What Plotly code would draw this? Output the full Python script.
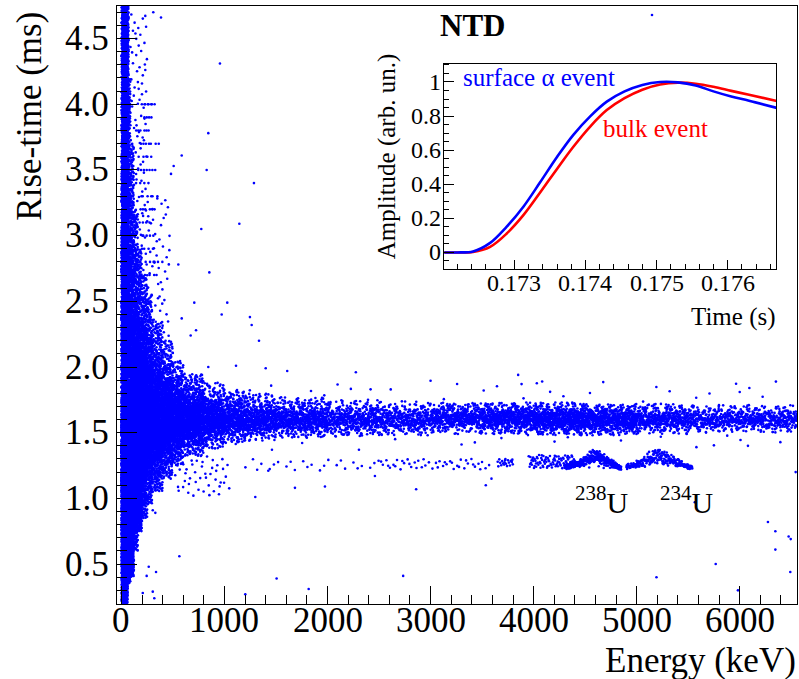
import numpy as np
import plotly.graph_objects as go

# ---------------- data ----------------
# Dense event population, described per energy bin:
# energy range (keV), lower / centre / upper rise-time (ms), number of events, flat fraction
band_E_lo = [0, 30, 60, 90, 120, 160, 200, 250, 300, 400, 500, 600, 800, 1000, 1250, 1500, 2000, 2500, 3000, 3500, 4000, 4500, 5000, 5500, 6000]
band_E_hi = [30, 60, 90, 120, 160, 200, 250, 300, 400, 500, 600, 800, 1000, 1250, 1500, 2000, 2500, 3000, 3500, 4000, 4500, 5000, 5500, 6000, 6560]
band_rt_lo = [0.20, 0.25, 0.35, 0.45, 0.60, 0.75, 0.85, 0.95, 1.05, 1.15, 1.25, 1.32, 1.38, 1.42, 1.44, 1.46, 1.47, 1.48, 1.49, 1.49, 1.48, 1.48, 1.49, 1.50, 1.50]
band_rt_c = [1.60, 1.60, 1.60, 1.60, 1.60, 1.60, 1.60, 1.60, 1.60, 1.60, 1.60, 1.60, 1.60, 1.60, 1.60, 1.60, 1.60, 1.60, 1.61, 1.61, 1.60, 1.60, 1.60, 1.60, 1.60]
band_rt_hi = [4.75, 4.60, 4.20, 3.70, 3.20, 2.90, 2.70, 2.55, 2.35, 2.20, 2.05, 1.95, 1.88, 1.83, 1.80, 1.77, 1.75, 1.74, 1.73, 1.73, 1.73, 1.72, 1.72, 1.71, 1.71]
band_n = [2200, 2200, 1800, 1500, 1600, 1300, 1300, 1100, 1400, 1000, 750, 1000, 650, 560, 450, 650, 450, 400, 480, 600, 720, 650, 450, 330, 360]
band_flat = [0.45, 0.40, 0.30, 0.28, 0.25, 0.25, 0.25, 0.25, 0.25, 0.25, 0.25, 0.25, 0.25, 0.25, 0.25, 0.28, 0.30, 0.30, 0.30, 0.30, 0.30, 0.30, 0.30, 0.30, 0.30]

# Extra sparse regions (uniformly filled boxes): E range, rise-time range, count
box_E_lo = [5, 5, 60, 120, 80, 250, 520, 1000, 1200, 2500, 3650, 3950]
box_E_hi = [70, 60, 120, 200, 250, 470, 1050, 6500, 2500, 3600, 3800, 4400]
box_rt_lo = [2.20, 0.20, 0.40, 0.75, 2.20, 2.20, 1.02, 1.40, 1.21, 1.22, 1.24, 1.23]
box_rt_hi = [4.75, 1.20, 1.20, 1.30, 4.70, 3.30, 1.32, 1.90, 1.30, 1.30, 1.30, 1.33]
box_n = [1400, 600, 400, 250, 120, 50, 45, 90, 25, 45, 20, 90]

# Quantised rise-time rows seen at low energy
quant_rt = [4.0, 3.9, 3.8, 3.7, 3.6, 3.5, 3.4, 3.3, 3.2, 3.1, 3.0, 2.9, 2.8, 2.7]
quant_E_lo = [195, 210, 130, 180, 150, 110, 140, 180, 150, 170, 190, 160, 230, 200]
quant_E_hi = [325, 300, 290, 370, 300, 330, 300, 370, 330, 300, 320, 330, 400, 380]
quant_n = [8, 4, 6, 7, 4, 7, 4, 6, 6, 4, 5, 4, 6, 4]

# Surface alpha clusters (238U, 234U): start, peak, end energy; peak / base rise-time; count
u_E_start = [4300, 4900]
u_E_peak = [4600, 5200]
u_E_end = [4850, 5540]
u_rt_peak = [1.39, 1.40]
u_rt_base = [1.23, 1.23]
u_n = [330, 240]
u_labels = ["<sup>238</sup>U", "<sup>234</sup>U"]

# Isolated events (energy keV, rise-time ms)
out_E = [956, 843, 585, 507, 481, 827, 1286, 1144, 775, 552, 853, 707, 1027, 973, 1247, 1264, 585, 724, 672,
         309, 384, 5149, 1335, 1112, 1400, 1609, 2275, 2418, 843, 562, 1506, 1817, 1202, 207, 304, 319, 245,
         336, 265, 329, 304, 1299, 1684, 1975, 2460, 2305, 1461, 1425, 3850, 3883, 4083, 6000, 6080, 6543,
         2860, 3536, 2734, 5192, 5767, 5983, 6274, 6346, 6346, 6475, 6495, 6491, 5564, 5580, 3591, 6540]
out_rt = [4.31, 3.78, 3.61, 3.53, 3.47, 3.50, 3.40, 3.09, 3.05, 2.78, 2.72, 2.49, 2.49, 2.40, 2.38, 2.32, 2.37, 2.28, 2.24,
          4.70, 4.66, 4.68, 2.20, 2.01, 1.99, 1.97, 1.96, 1.83, 2.00, 0.56, 0.39, 0.31, 0.27, 0.28, 0.29, 0.24, 0.41,
          0.44, 0.48, 0.89, 0.91, 1.01, 1.08, 1.09, 1.17, 1.37, 1.37, 1.21, 1.94, 1.87, 1.89, 1.81, 1.40, 1.20,
          1.07, 1.10, 0.41, 0.40, 0.50, 0.30, 0.82, 0.75, 0.61, 0.71, 0.69, 0.44, 0.97, 1.39, 1.15, 1.62]

# Tick labels
x_ticks = [0, 1000, 2000, 3000, 4000, 5000, 6000]
y_ticks = [0.5, 1.0, 1.5, 2.0, 2.5, 3.0, 3.5, 4.0, 4.5]
x2_ticks = [0.173, 0.174, 0.175, 0.176]
y2_ticks = [0, 0.2, 0.4, 0.6, 0.8, 1]
y2_ticktext = ["0", "0.2", "0.4", "0.6", "0.8", "1"]

# Inset: pulse shapes
time_s = [0.17200, 0.17220, 0.17242, 0.17266, 0.17289, 0.17313, 0.17336, 0.17360, 0.17383, 0.17407,
          0.17430, 0.17455, 0.17480, 0.17505, 0.17530, 0.17555, 0.17580, 0.17605, 0.17630, 0.17669]
amp_surface = [0.0, 0.0, 0.006, 0.056, 0.15, 0.27, 0.41, 0.56, 0.69, 0.80,
               0.885, 0.945, 0.983, 1.0, 0.998, 0.98, 0.945, 0.915, 0.89, 0.848]
amp_bulk = [0.0, 0.0, 0.003, 0.033, 0.11, 0.22, 0.35, 0.49, 0.62, 0.74,
            0.835, 0.905, 0.955, 0.985, 0.996, 0.99, 0.972, 0.948, 0.925, 0.889]


# ---------------- point placement (deterministic low-discrepancy fill) ----------------
def halton(idx, base):
    idx = np.asarray(idx, dtype=np.int64) + 1
    res = np.zeros(idx.shape, dtype=float)
    f = 1.0 / base
    i = idx.copy()
    while np.any(i > 0):
        res += f * (i % base)
        i //= base
        f /= base
    return res


offset = [0]


def take(n):
    idx = np.arange(offset[0], offset[0] + n)
    offset[0] += n
    return idx


xs, ys = [], []
for e0, e1, lo, c, hi, n, fl in zip(band_E_lo, band_E_hi, band_rt_lo, band_rt_c, band_rt_hi, band_n, band_flat):
    idx = take(n)
    x = e0 + (e1 - e0) * halton(idx, 2)
    t = (halton(idx, 3) + halton(idx, 5) + halton(idx, 7)) / 3.0 * 2 - 1
    flat = halton(idx, 11) < fl
    t = np.where(flat, 2 * halton(idx, 13) - 1, t)
    y = np.where(t < 0, c + t * (c - lo), c + t * (hi - c))
    xs.append(x); ys.append(y)

for e0, e1, r0, r1, n in zip(box_E_lo, box_E_hi, box_rt_lo, box_rt_hi, box_n):
    idx = take(n)
    xs.append(e0 + (e1 - e0) * halton(idx, 2))
    ys.append(r0 + (r1 - r0) * halton(idx, 3))

for r, e0, e1, n in zip(quant_rt, quant_E_lo, quant_E_hi, quant_n):
    idx = take(n)
    xs.append(e0 + (e1 - e0) * halton(idx, 2))
    ys.append(np.full(n, r))

for es, ep, ee, rp, rb, n in zip(u_E_start, u_E_peak, u_E_end, u_rt_peak, u_rt_base, u_n):
    idx = take(n)
    x = es + (ee - es) * halton(idx, 2)
    top = np.where(x < ep, rb + 0.02 + (rp - rb - 0.02) * ((x - es) / (ep - es)) ** 1.5,
                   rp + (rb - rp) * (x - ep) / (ee - ep))
    v = 0.5 * (halton(idx, 3) + np.maximum(halton(idx, 5), halton(idx, 7)))
    y = rb + (top - rb) * v + 0.03 * (halton(idx, 11) - 0.5)
    xs.append(x); ys.append(y)

xs.append(np.array(out_E, float)); ys.append(np.array(out_rt, float))
X = np.concatenate(xs)
Y = np.concatenate(ys)

# ---------------- figure ----------------
FONT = "Liberation Serif"
fig = go.Figure()
fig.add_trace(go.Scatter(x=X, y=Y, mode="markers",
                         marker=dict(size=2.6, color="#0000ff", line=dict(width=0)),
                         hoverinfo="skip", showlegend=False))
fig.add_trace(go.Scatter(x=time_s, y=amp_bulk, mode="lines", line=dict(color="#ff0000", width=2.6, shape="spline", smoothing=1.0),
                         xaxis="x2", yaxis="y2", showlegend=False))
fig.add_trace(go.Scatter(x=time_s, y=amp_surface, mode="lines", line=dict(color="#0000ff", width=2.6, shape="spline", smoothing=1.0),
                         xaxis="x2", yaxis="y2", showlegend=False))

base_ax = dict(showline=True, mirror=True, linecolor="black", linewidth=1, showgrid=False, zeroline=False,
               ticks="inside", tickcolor="black", tickwidth=1, showticklabels=False)
fig.update_layout(
    width=799, height=679, margin=dict(l=117, r=2, t=6, b=75),
    paper_bgcolor="white", plot_bgcolor="white",
    font=dict(family=FONT, color="black"),
    xaxis=dict(base_ax, range=[-43, 6556], tickvals=x_ticks, ticklen=18,
               minor=dict(ticks="inside", ticklen=9, dtick=200, tick0=0, tickcolor="black")),
    yaxis=dict(base_ax, range=[0.196, 4.748], tickvals=y_ticks, ticklen=20,
               minor=dict(ticks="inside", ticklen=10, dtick=0.1, tick0=0, tickcolor="black")),
    xaxis2=dict(base_ax, domain=[0.4813, 0.9696], anchor="y2", range=[0.172015, 0.176684],
                tickvals=x2_ticks, ticklen=9,
                minor=dict(ticks="inside", ticklen=5, dtick=0.0002, tick0=0.172, tickcolor="black")),
    yaxis2=dict(base_ax, domain=[0.5594, 0.9037], anchor="x2", range=[-0.1, 1.108],
                tickvals=y2_ticks, ticklen=10,
                minor=dict(ticks="inside", ticklen=5, dtick=0.05, tick0=0, tickcolor="black")),
)


def label(text, x, y, xref, yref, xanchor, yanchor, size, color="black", angle=0):
    fig.add_annotation(text=text, x=x, y=y, xref=xref, yref=yref, xanchor=xanchor, yanchor=yanchor,
                       textangle=angle, showarrow=False, borderpad=0,
                       font=dict(family=FONT, size=size, color=color))


# tick labels (serif, ROOT style)
for v in x_ticks:
    label(str(v), v, -0.028, "x", "paper", "center", "middle", 35)
for v in y_ticks:
    label(f"{v:.1f}", -0.0103, v, "paper", "y", "right", "middle", 35)
for v in x2_ticks:
    label(f"{v:.3f}", v, 0.5372, "x2", "paper", "center", "middle", 24)
for v, t in zip(y2_ticks, y2_ticktext):
    label(t, 0.4775, v, "paper", "y2", "right", "middle", 24)

# titles and labels
label("Rise-time (ms)", -0.128, 0.993, "paper", "paper", "center", "top", 35, angle=-90)
label("Energy (keV)", 1.0, -0.094, "paper", "paper", "right", "middle", 35)
label("<b>NTD</b>", 0.5235, 0.9677, "paper", "paper", "center", "middle", 31)
label("surface \u03b1 event", 0.5074, 0.8808, "paper", "paper", "left", "middle", 25, "#0000ff")
label("bulk event", 0.7132, 0.7956, "paper", "paper", "left", "middle", 25, "#ff0000")
label("Time (s)", 0.9706, 0.4797, "paper", "paper", "right", "middle", 25)
label("Amplitude (arb. un.)", 0.397, 0.9226, "paper", "paper", "center", "top", 25, angle=-90)
label(u_labels[0], 0.7132, 0.1738, "paper", "paper", "center", "middle", 30)
label(u_labels[1], 0.8382, 0.1738, "paper", "paper", "center", "middle", 30)

fig.write_html("out.html")
